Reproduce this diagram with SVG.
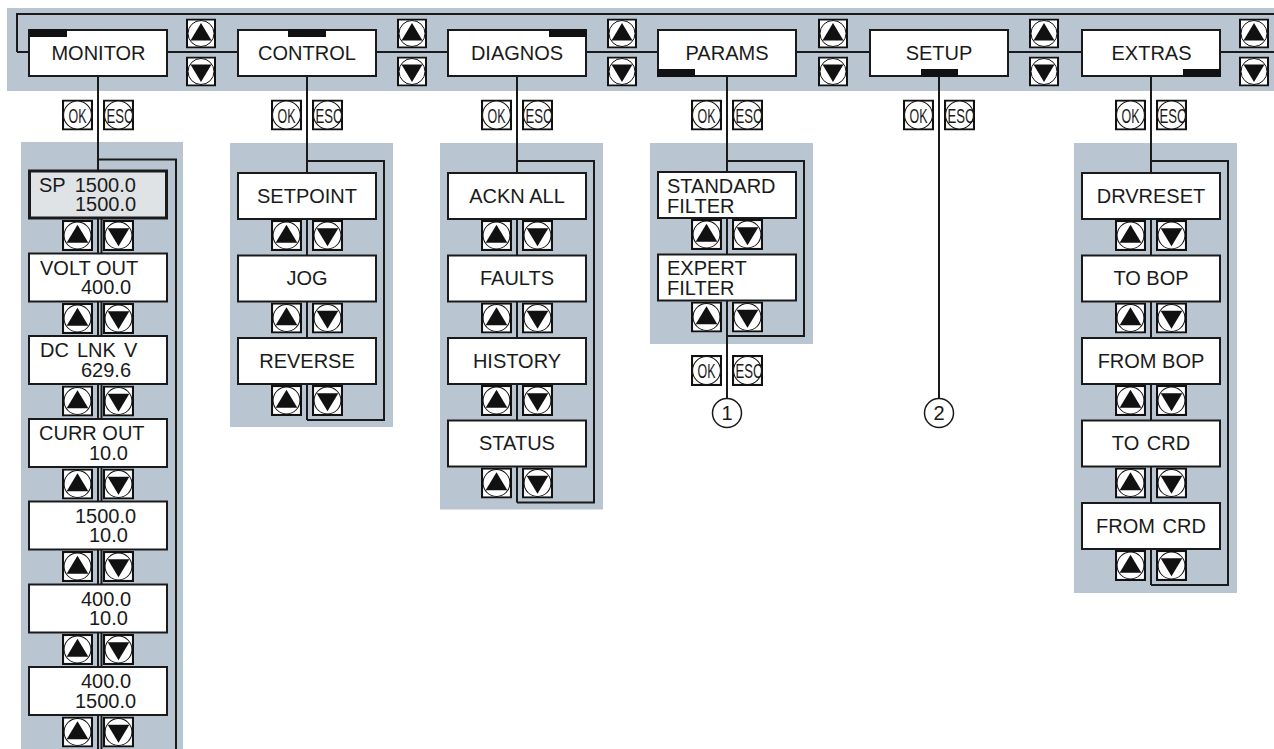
<svg xmlns="http://www.w3.org/2000/svg" xmlns:xlink="http://www.w3.org/1999/xlink" width="1274" height="749" viewBox="0 0 1274 749">
<style>
.bg{fill:#b9c6d1}
.box{fill:#fff;stroke:#1a1a1a;stroke-width:2}
.sel{fill:#dfe3e6;stroke:#1a1a1a;stroke-width:3}
.bar{fill:#111}
.t{font-family:"Liberation Sans",Arial,sans-serif;font-size:20px;fill:#1a1a1a}
.m{text-anchor:middle}
.k{font-family:"Liberation Sans",Arial,sans-serif;font-size:21px;fill:#1a1a1a;text-anchor:middle}
.ln{fill:none;stroke:#1a1a1a;stroke-width:2}
.num{fill:#fff;stroke:#1a1a1a;stroke-width:1.5}
</style>
<defs>
<symbol id="up" viewBox="0 0 30 30"><rect x="1" y="1" width="28" height="28" fill="#fff" stroke="#111" stroke-width="2"/><circle cx="15" cy="15" r="13" fill="#fff" stroke="#111" stroke-width="1"/><polygon points="15,4.5 25.5,22 4.5,22" fill="#111"/></symbol>
<symbol id="down" viewBox="0 0 30 30"><rect x="1" y="1" width="28" height="28" fill="#fff" stroke="#111" stroke-width="2"/><circle cx="15" cy="15" r="13" fill="#fff" stroke="#111" stroke-width="1"/><polygon points="4.5,8 25.5,8 15,25.5" fill="#111"/></symbol>
<symbol id="key" viewBox="0 0 30 30"><rect x="1" y="1" width="28" height="28" fill="#fff" stroke="#111" stroke-width="2"/><circle cx="15" cy="15" r="13.5" fill="#fff" stroke="#111" stroke-width="1"/></symbol>
</defs>

<g id="backgrounds">
<rect class="bg" x="7" y="8" width="1267" height="83"/>
<rect class="bg" x="21" y="142" width="162" height="607"/>
<rect class="bg" x="230" y="143" width="163" height="284"/>
<rect class="bg" x="440" y="143" width="163" height="366.5"/>
<rect class="bg" x="650" y="143" width="163" height="201"/>
<rect class="bg" x="1074" y="143" width="163" height="450"/>
</g>

<g id="connectors">
<path class="ln" d="M17 52 V14 H1274"/>
<path class="ln" d="M17 52 H1274"/>
<path class="ln" d="M98 77 V749"/>
<path class="ln" d="M98 159.5 H176 V749"/>
<path class="ln" d="M101.5 219 V749" stroke-width="1.5"/>
<path class="ln" d="M307 77 V420"/>
<path class="ln" d="M307 161 H384 V420 H307"/>
<path class="ln" d="M517 77 V502.5"/>
<path class="ln" d="M517 161 H594 V502.5 H517"/>
<path class="ln" d="M727 77 V399"/>
<path class="ln" d="M727 161 H804 V336 H727"/>
<path class="ln" d="M939 77 V399"/>
<path class="ln" d="M1151 77 V585"/>
<path class="ln" d="M1151 161 H1228 V585 H1151"/>
</g>

<g id="top-menu">
<g id="menu-monitor"><rect class="box" x="29" y="30" width="138" height="46"/><rect class="bar" x="30" y="29" width="37" height="8"/><text class="t m" x="98.5" y="60">MONITOR</text></g>
<g id="menu-control"><rect class="box" x="238" y="30" width="138" height="46"/><rect class="bar" x="288" y="29" width="38" height="8"/><text class="t m" x="307" y="60">CONTROL</text></g>
<g id="menu-diagnos"><rect class="box" x="448" y="30" width="138" height="46"/><rect class="bar" x="549" y="29" width="38" height="8"/><text class="t m" x="517" y="60">DIAGNOS</text></g>
<g id="menu-params"><rect class="box" x="658" y="30" width="138" height="46"/><rect class="bar" x="657" y="69" width="38" height="8"/><text class="t m" x="727" y="60">PARAMS</text></g>
<g id="menu-setup"><rect class="box" x="870" y="30" width="138" height="46"/><rect class="bar" x="921" y="69" width="37" height="8"/><text class="t m" x="939" y="60">SETUP</text></g>
<g id="menu-extras"><rect class="box" x="1082" y="30" width="138" height="46"/><rect class="bar" x="1183" y="69" width="38" height="8"/><text class="t m" x="1151.5" y="60">EXTRAS</text></g>
</g>

<g id="top-arrows">
<use xlink:href="#up" x="186" y="18.5" width="30" height="30"/><use xlink:href="#down" x="186" y="56.5" width="30" height="30"/>
<use xlink:href="#up" x="397" y="18.5" width="30" height="30"/><use xlink:href="#down" x="397" y="56.5" width="30" height="30"/>
<use xlink:href="#up" x="607" y="18.5" width="30" height="30"/><use xlink:href="#down" x="607" y="56.5" width="30" height="30"/>
<use xlink:href="#up" x="818" y="18.5" width="30" height="30"/><use xlink:href="#down" x="818" y="56.5" width="30" height="30"/>
<use xlink:href="#up" x="1029" y="18.5" width="30" height="30"/><use xlink:href="#down" x="1029" y="56.5" width="30" height="30"/>
<use xlink:href="#up" x="1239" y="18.5" width="30" height="30"/><use xlink:href="#down" x="1239" y="56.5" width="30" height="30"/>
</g>

<g id="ok-esc-keys">
<g id="keys-monitor"><use xlink:href="#key" x="62" y="99.5" width="31" height="31"/><use xlink:href="#key" x="103" y="99.5" width="31" height="31"/><text class="k" x="77.5" y="122.5" textLength="18" lengthAdjust="spacingAndGlyphs">OK</text><text class="k" x="120" y="122.5" textLength="27" lengthAdjust="spacingAndGlyphs">ESC</text></g>
<g id="keys-control"><use xlink:href="#key" x="271" y="99.5" width="31" height="31"/><use xlink:href="#key" x="312" y="99.5" width="31" height="31"/><text class="k" x="286.5" y="122.5" textLength="18" lengthAdjust="spacingAndGlyphs">OK</text><text class="k" x="329" y="122.5" textLength="27" lengthAdjust="spacingAndGlyphs">ESC</text></g>
<g id="keys-diagnos"><use xlink:href="#key" x="481" y="99.5" width="31" height="31"/><use xlink:href="#key" x="522" y="99.5" width="31" height="31"/><text class="k" x="496.5" y="122.5" textLength="18" lengthAdjust="spacingAndGlyphs">OK</text><text class="k" x="539" y="122.5" textLength="27" lengthAdjust="spacingAndGlyphs">ESC</text></g>
<g id="keys-params"><use xlink:href="#key" x="691" y="99.5" width="31" height="31"/><use xlink:href="#key" x="732" y="99.5" width="31" height="31"/><text class="k" x="706.5" y="122.5" textLength="18" lengthAdjust="spacingAndGlyphs">OK</text><text class="k" x="749" y="122.5" textLength="27" lengthAdjust="spacingAndGlyphs">ESC</text></g>
<g id="keys-setup"><use xlink:href="#key" x="903" y="99.5" width="31" height="31"/><use xlink:href="#key" x="944" y="99.5" width="31" height="31"/><text class="k" x="918.5" y="122.5" textLength="18" lengthAdjust="spacingAndGlyphs">OK</text><text class="k" x="961" y="122.5" textLength="27" lengthAdjust="spacingAndGlyphs">ESC</text></g>
<g id="keys-extras"><use xlink:href="#key" x="1115" y="99.5" width="31" height="31"/><use xlink:href="#key" x="1156" y="99.5" width="31" height="31"/><text class="k" x="1130.5" y="122.5" textLength="18" lengthAdjust="spacingAndGlyphs">OK</text><text class="k" x="1173" y="122.5" textLength="27" lengthAdjust="spacingAndGlyphs">ESC</text></g>
<g id="keys-params-bottom"><use xlink:href="#key" x="691" y="355" width="31" height="31"/><use xlink:href="#key" x="732" y="355" width="31" height="31"/><text class="k" x="706.5" y="378" textLength="18" lengthAdjust="spacingAndGlyphs">OK</text><text class="k" x="749" y="378" textLength="27" lengthAdjust="spacingAndGlyphs">ESC</text></g>
</g>

<g id="monitor-list">
<g id="mon-sp"><rect class="sel" x="29.5" y="171" width="137" height="47"/><text class="t" x="39" y="191.5" word-spacing="3.8">SP 1500.0</text><text class="t" x="75" y="211">1500.0</text></g>
<use xlink:href="#up" x="62" y="220" width="31" height="31"/><use xlink:href="#down" x="103" y="220" width="31" height="31"/>
<g id="mon-volt"><rect class="box" x="29" y="253.5" width="138" height="48"/><text class="t" x="40" y="274.5">VOLT OUT</text><text class="t" x="81" y="294">400.0</text></g>
<use xlink:href="#up" x="62" y="303" width="31" height="31"/><use xlink:href="#down" x="103" y="303" width="31" height="31"/>
<g id="mon-dclnk"><rect class="box" x="29" y="336" width="138" height="48"/><text class="t" x="40" y="357" word-spacing="2.5">DC LNK V</text><text class="t" x="81" y="376.5">629.6</text></g>
<use xlink:href="#up" x="62" y="385.5" width="31" height="31"/><use xlink:href="#down" x="103" y="385.5" width="31" height="31"/>
<g id="mon-curr"><rect class="box" x="29" y="419" width="138" height="48"/><text class="t" x="39" y="440">CURR OUT</text><text class="t" x="89" y="459.5">10.0</text></g>
<use xlink:href="#up" x="62" y="468.5" width="31" height="31"/><use xlink:href="#down" x="103" y="468.5" width="31" height="31"/>
<g id="mon-4"><rect class="box" x="29" y="501.5" width="138" height="48"/><text class="t" x="75" y="522.5">1500.0</text><text class="t" x="89" y="542">10.0</text></g>
<use xlink:href="#up" x="62" y="551" width="31" height="31"/><use xlink:href="#down" x="103" y="551" width="31" height="31"/>
<g id="mon-5"><rect class="box" x="29" y="584.5" width="138" height="48"/><text class="t" x="81" y="605.5">400.0</text><text class="t" x="89" y="625">10.0</text></g>
<use xlink:href="#up" x="62" y="634" width="31" height="31"/><use xlink:href="#down" x="103" y="634" width="31" height="31"/>
<g id="mon-6"><rect class="box" x="29" y="667" width="138" height="48"/><text class="t" x="81" y="688">400.0</text><text class="t" x="75" y="707.5">1500.0</text></g>
<use xlink:href="#up" x="62" y="716.5" width="31" height="31"/><use xlink:href="#down" x="103" y="716.5" width="31" height="31"/>
</g>

<g id="control-list">
<g id="ctl-setpoint"><rect class="box" x="238" y="173" width="138" height="46"/><text class="t m" x="307" y="202.5">SETPOINT</text></g>
<use xlink:href="#up" x="271" y="220" width="31" height="31"/><use xlink:href="#down" x="312" y="220" width="31" height="31"/>
<g id="ctl-jog"><rect class="box" x="238" y="255.5" width="138" height="46"/><text class="t m" x="307" y="285">JOG</text></g>
<use xlink:href="#up" x="271" y="302.5" width="31" height="31"/><use xlink:href="#down" x="312" y="302.5" width="31" height="31"/>
<g id="ctl-reverse"><rect class="box" x="238" y="338" width="138" height="46"/><text class="t m" x="307" y="367.5">REVERSE</text></g>
<use xlink:href="#up" x="271" y="385" width="31" height="31"/><use xlink:href="#down" x="312" y="385" width="31" height="31"/>
</g>

<g id="diagnos-list">
<g id="dg-ackn"><rect class="box" x="448" y="173" width="138" height="46"/><text class="t m" x="517" y="202.5">ACKN ALL</text></g>
<use xlink:href="#up" x="481" y="220" width="31" height="31"/><use xlink:href="#down" x="522" y="220" width="31" height="31"/>
<g id="dg-faults"><rect class="box" x="448" y="255.5" width="138" height="46"/><text class="t m" x="517" y="285">FAULTS</text></g>
<use xlink:href="#up" x="481" y="302.5" width="31" height="31"/><use xlink:href="#down" x="522" y="302.5" width="31" height="31"/>
<g id="dg-history"><rect class="box" x="448" y="338" width="138" height="46"/><text class="t m" x="517" y="367.5">HISTORY</text></g>
<use xlink:href="#up" x="481" y="385" width="31" height="31"/><use xlink:href="#down" x="522" y="385" width="31" height="31"/>
<g id="dg-status"><rect class="box" x="448" y="420.5" width="138" height="46"/><text class="t m" x="517" y="450">STATUS</text></g>
<use xlink:href="#up" x="481" y="467.5" width="31" height="31"/><use xlink:href="#down" x="522" y="467.5" width="31" height="31"/>
</g>

<g id="params-list">
<g id="pr-standard"><rect class="box" x="658" y="172" width="138" height="46"/><text class="t" x="667" y="192.5">STANDARD</text><text class="t" x="667" y="212.5">FILTER</text></g>
<use xlink:href="#up" x="691" y="219" width="31" height="31"/><use xlink:href="#down" x="732" y="219" width="31" height="31"/>
<g id="pr-expert"><rect class="box" x="658" y="254.5" width="138" height="46"/><text class="t" x="667" y="275">EXPERT</text><text class="t" x="667" y="295">FILTER</text></g>
<use xlink:href="#up" x="691" y="301.5" width="31" height="31"/><use xlink:href="#down" x="732" y="301.5" width="31" height="31"/>
</g>

<g id="extras-list">
<g id="ex-drvreset"><rect class="box" x="1082" y="173" width="138" height="46"/><text class="t m" x="1151" y="202.5">DRVRESET</text></g>
<use xlink:href="#up" x="1115" y="220" width="31" height="31"/><use xlink:href="#down" x="1156" y="220" width="31" height="31"/>
<g id="ex-tobop"><rect class="box" x="1082" y="255.5" width="138" height="46"/><text class="t m" x="1151" y="285">TO BOP</text></g>
<use xlink:href="#up" x="1115" y="302.5" width="31" height="31"/><use xlink:href="#down" x="1156" y="302.5" width="31" height="31"/>
<g id="ex-frombop"><rect class="box" x="1082" y="338" width="138" height="46"/><text class="t m" x="1151" y="367.5">FROM BOP</text></g>
<use xlink:href="#up" x="1115" y="385" width="31" height="31"/><use xlink:href="#down" x="1156" y="385" width="31" height="31"/>
<g id="ex-tocrd"><rect class="box" x="1082" y="420.5" width="138" height="46"/><text class="t m" x="1151" y="450" word-spacing="2">TO CRD</text></g>
<use xlink:href="#up" x="1115" y="467.5" width="31" height="31"/><use xlink:href="#down" x="1156" y="467.5" width="31" height="31"/>
<g id="ex-fromcrd"><rect class="box" x="1082" y="503" width="138" height="46"/><text class="t m" x="1151" y="532.5" word-spacing="2">FROM CRD</text></g>
<use xlink:href="#up" x="1115" y="550" width="31" height="31"/><use xlink:href="#down" x="1156" y="550" width="31" height="31"/>
</g>

<g id="marker-1"><circle class="num" cx="727" cy="413" r="14.5"/><text class="t m" x="727" y="420" font-size="19">1</text></g>
<g id="marker-2"><circle class="num" cx="939" cy="413" r="14.5"/><text class="t m" x="939" y="420" font-size="19">2</text></g>
</svg>
